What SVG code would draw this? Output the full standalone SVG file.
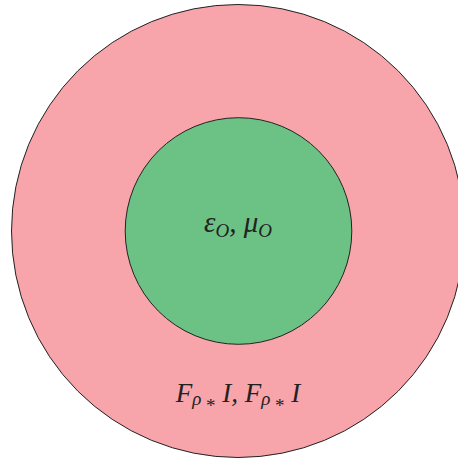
<svg xmlns="http://www.w3.org/2000/svg" width="458" height="459" viewBox="0 0 458 459">
<style>
.ring{stroke:#222;stroke-width:1}
.m{font-family:"Liberation Serif","DejaVu Serif",serif;font-style:italic;fill:#222}
.s{font-size:19px}
</style>
<rect width="458" height="459" fill="#ffffff"/>
<g id="outer">
<circle cx="238" cy="231" r="226.5" fill="#f7a5ab" class="ring"/>
<text x="238" y="402" text-anchor="middle" class="m" font-size="27">F<tspan class="s" dy="3">ρ</tspan><tspan class="s" dy="7" font-style="normal" font-size="21"> *</tspan><tspan dy="-10"> I, F</tspan><tspan class="s" dy="3">ρ</tspan><tspan class="s" dy="7" font-style="normal" font-size="21"> *</tspan><tspan dy="-10"> I</tspan></text>
</g>
<g id="inner">
<circle cx="238.5" cy="231" r="113.3" fill="#6cc285" class="ring"/>
<text x="238" y="232" text-anchor="middle" class="m" font-size="29">ε<tspan class="s" dy="5">O</tspan><tspan dy="-5">, μ</tspan><tspan class="s" dy="5">O</tspan></text>
</g>
</svg>
